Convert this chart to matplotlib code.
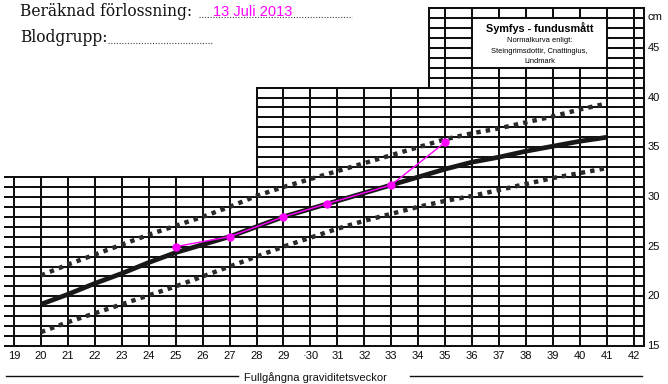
import matplotlib
matplotlib.use("Agg")
import matplotlib.pyplot as plt
from matplotlib.patches import Rectangle

# Normal curve (Steingrimsdottir, Cnattingius, Lindmark), cm per completed week
weeks = list(range(20, 42))
median = [19.2, 20.2, 21.3, 22.3, 23.4, 24.4, 25.2, 26.0, 27.0, 28.0, 28.8,
          29.6, 30.4, 31.2, 32.0, 32.8, 33.5, 34.0, 34.6, 35.1, 35.6, 36.0]
upper = [22.1, 23.2, 24.2, 25.2, 26.2, 27.1, 28.0, 29.0, 30.1, 31.0, 31.8,
         32.6, 33.4, 34.2, 35.0, 35.8, 36.4, 36.9, 37.5, 38.1, 38.8, 39.4]
lower = [16.4, 17.4, 18.3, 19.2, 20.1, 21.0, 22.0, 23.0, 24.0, 25.0, 25.9,
         26.8, 27.6, 28.3, 29.0, 29.6, 30.1, 30.7, 31.3, 31.9, 32.4, 32.9]

# measured symphysis-fundus values (magenta)
meas_weeks = [25, 27, 29, 30.6, 33, 35]
meas_cm = [25.0, 26.0, 28.0, 29.3, 31.2, 35.5]

week_ticks = list(range(19, 43))
week_labels = [str(w) for w in week_ticks]
week_labels[week_ticks.index(30)] = "·30"
cm_ticks = [15, 20, 25, 30, 35, 40, 45]

W, H = 668, 384
fig = plt.figure(figsize=(W / 100, H / 100), dpi=100)
fig.patch.set_facecolor("white")
ax = fig.add_axes([0, 0, 1, 1])
ax.set_xlim(18.48, 43.27)
ax.set_ylim(11.18, 49.81)
ax.axis("off")

ink = "#101010"
glw = 1.45
right_edge = 42.37
step_x = 34.4  # left edge of the tall part

# horizontal grid lines, three stepped sections
for c in range(15, 33):
    ax.plot([18.67, right_edge], [c, c], color=ink, lw=glw, zorder=1)
for c in range(33, 42):
    ax.plot([28, right_edge], [c, c], color=ink, lw=glw, zorder=1)
for c in range(42, 50):
    ax.plot([step_x, right_edge], [c, c], color=ink, lw=glw, zorder=1)

# vertical grid lines
for w in week_ticks:
    top = 32 if w < 28 else (41 if w < step_x else 49)
    ax.plot([w, w], [15, top], color=ink, lw=glw, zorder=1)
ax.plot([right_edge, right_edge], [15, 49], color=ink, lw=glw, zorder=1)
ax.plot([step_x, step_x], [41, 49], color=ink, lw=glw, zorder=1)

# title box inside the grid
ax.add_patch(Rectangle((36, 43), 5, 5, facecolor="white", edgecolor=ink,
                       lw=glw, zorder=3))
ax.text(38.5, 47.0, "Symfys - fundusmått", ha="center", va="center",
        fontsize=7.8, fontweight="bold", family="Liberation Sans", zorder=4)
ax.text(38.5, 45.75, "Normalkurva enligt:", ha="center", va="center",
        fontsize=5.4, family="Liberation Sans", zorder=4)
ax.text(38.5, 44.6, "Steingrimsdottir, Cnattingius,", ha="center", va="center",
        fontsize=5.4, family="Liberation Sans", zorder=4)
ax.text(38.5, 43.6, "Lindmark", ha="center", va="center",
        fontsize=5.4, family="Liberation Sans", zorder=4)

# normal curves
ax.plot(weeks, median, color="#181818", lw=3.4, solid_capstyle="butt", zorder=4)
ax.plot(weeks, upper, color="#2a2a2a", lw=3.2, ls=(0, (1, 1.15)),
        dash_capstyle="butt", zorder=4)
ax.plot(weeks, lower, color="#2a2a2a", lw=3.2, ls=(0, (1, 1.15)),
        dash_capstyle="butt", zorder=4)

# measurements
ax.plot(meas_weeks, meas_cm, color="#ff00ff", lw=1.0, marker="o",
        markersize=5, zorder=6)

# axis labels
for w, lab in zip(week_ticks, week_labels):
    ax.text(w, 14.0, lab, ha="center", va="center", fontsize=8,
            family="Liberation Sans", color="#0a0a0a")
for c in cm_ticks:
    ax.text(42.5, c, str(c), ha="left", va="center", fontsize=8,
            family="Liberation Sans", color="#0a0a0a")
ax.text(42.5, 48.1, "cm", ha="left", va="center", fontsize=8,
        family="Liberation Sans", color="#0a0a0a")

# x title near the bottom edge of the scan
ax.plot([18.7, 27.3], [11.95, 11.95], color=ink, lw=1.0)
ax.plot([33.7, 42.3], [11.95, 11.95], color=ink, lw=1.0)
ax.text(30.2, 12.38, "Fullgångna graviditetsveckor", ha="center", va="top",
        fontsize=8, family="Liberation Sans", color="#111")

# header of the form
fig.text(20 / W, 1 - 16 / H, "Beräknad förlossning:", fontsize=11.2,
         family="DejaVu Serif", va="baseline", color="#111")
fig.text(20 / W, 1 - 42 / H, "Blodgrupp:", fontsize=11.2,
         family="DejaVu Serif", va="baseline", color="#111")
fig.lines.append(plt.Line2D([199 / W, 352 / W], [1 - 17 / H, 1 - 17 / H],
                            transform=fig.transFigure, color="#444",
                            lw=0.8, ls=(0, (1, 1.5))))
fig.lines.append(plt.Line2D([108 / W, 212 / W], [1 - 43 / H, 1 - 43 / H],
                            transform=fig.transFigure, color="#444",
                            lw=0.8, ls=(0, (1, 1.5))))
fig.text(213 / W, 1 - 16.5 / H, "13 Juli 2013", fontsize=10.5,
         family="Liberation Sans", va="baseline", color="#ff00ff")

fig.savefig("out.png", dpi=100, facecolor="white")
